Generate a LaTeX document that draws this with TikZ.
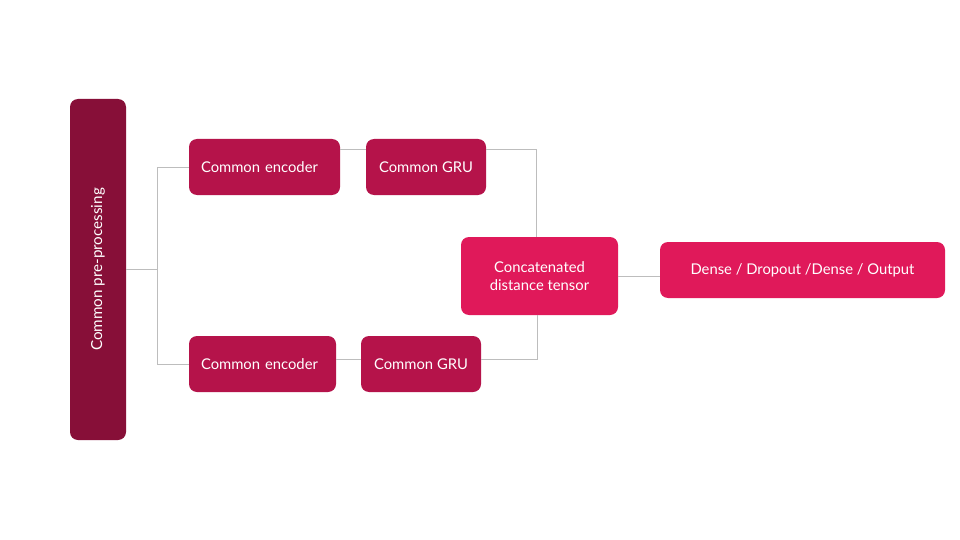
\documentclass[tikz,border=0pt]{standalone}
\usepackage{fontspec}
\setmainfont{Lato}
\definecolor{predark}{HTML}{870F38}
\definecolor{midpink}{HTML}{B5134A}
\definecolor{brightpink}{HTML}{E0195A}
\definecolor{connc}{HTML}{BDBDBD}
\tikzset{
  box/.style={rectangle, rounded corners=8pt, text=white, font=\fontsize{14.8}{18}\selectfont, inner sep=0pt, align=center},
  midbox/.style={box, fill=midpink},
  brightbox/.style={box, fill=brightpink},
  conn/.style={draw=connc, line width=0.8pt}
}
\begin{document}
\begin{tikzpicture}[x=1pt,y=-1pt]
\useasboundingbox[fill=white] (0,0) rectangle (960,540);
\node[box, fill=predark, minimum width=56pt, minimum height=341pt] (pre) at (98,269.5) {};
\node[text=white, font=\fontsize{15.2}{18}\selectfont, rotate=90] (pretext) at (pre.center) {Common pre-processing};
\node[midbox, minimum height=56pt, text width=127pt, inner xsep=12pt, align=left] (encT) at (264.5,167) {Common encoder};
\node[midbox, minimum width=120pt, minimum height=56pt] (gruT) at (426,167) {Common GRU};
\node[midbox, minimum height=56pt, text width=123pt, inner xsep=12pt, align=left] (encB) at (262.5,364) {Common encoder};
\node[midbox, minimum width=120pt, minimum height=56pt] (gruB) at (421,364) {Common GRU};
\node[brightbox, minimum width=157pt, minimum height=78pt] (concat) at (539.5,276) {Concatenated\\distance tensor};
\node[brightbox, minimum width=285pt, minimum height=56pt] (dense) at (802.5,270) {Dense / Dropout /Dense / Output};
\coordinate (split) at ([xshift=31pt]pre.east);
\draw[conn] (pre.east) -- (split);
\draw[conn] (split) |- (encT.west);
\draw[conn] (split) |- (encB.west);
\draw[conn] ([yshift=18pt]encT.east) -- ([yshift=18pt]gruT.west);
\draw[conn] ([yshift=18pt]gruT.east) -| ([xshift=-3.5pt]concat.north);
\draw[conn] ([yshift=5pt]encB.east) -- ([yshift=5pt]gruB.west);
\draw[conn] ([yshift=5pt]gruB.east) -| ([xshift=-2.5pt]concat.south);
\draw[conn] (concat.east) -- (concat.east -| dense.west);
\end{tikzpicture}
\end{document}
